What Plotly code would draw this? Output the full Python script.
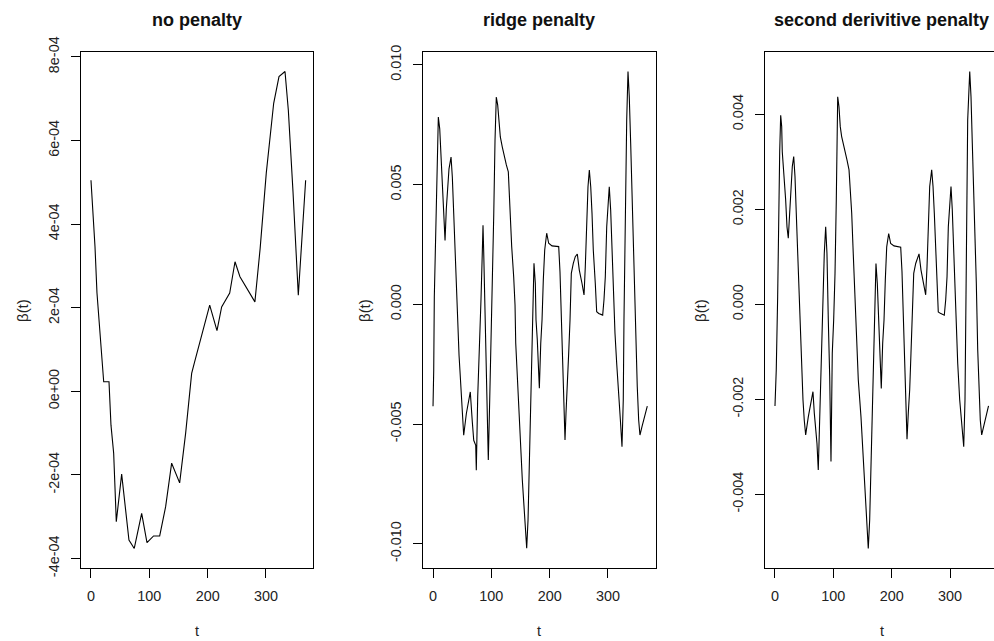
import plotly.graph_objects as go

# ---------------- data ----------------
t_none = [0, 6.9, 10.3, 13.7, 18.3, 21.8, 30.9, 34.3, 38.9, 43.4, 52.6, 61.7, 65.1, 74.2,
          86.9, 96.0, 107.3, 117.8, 128.0, 138.3, 152.0, 162.3, 172.6, 177.0, 185.0, 195.4,
          203.5, 216.0, 224.0, 237.8, 246.9, 255.4, 269.2, 281.0, 290.0, 300.5, 313.2, 322.3,
          332.6, 338.3, 346.3, 351.0, 355.4, 360.0, 364.7, 368.0]
beta_none = [5.05e-4, 3.46e-4, 2.35e-4, 1.71e-4, 0.92e-4, 0.23e-4, 0.23e-4, -0.81e-4, -1.48e-4,
             -3.12e-4, -1.98e-4, -3.08e-4, -3.56e-4, -3.76e-4, -2.92e-4, -3.62e-4, -3.46e-4,
             -3.46e-4, -2.76e-4, -1.72e-4, -2.19e-4, -1.00e-4, 0.43e-4, 0.67e-4, 1.07e-4,
             1.59e-4, 2.06e-4, 1.45e-4, 2.02e-4, 2.35e-4, 3.10e-4, 2.74e-4, 2.42e-4, 2.14e-4,
             3.42e-4, 5.22e-4, 6.89e-4, 7.53e-4, 7.65e-4, 6.73e-4, 4.78e-4, 3.46e-4, 2.30e-4,
             3.30e-4, 4.26e-4, 5.05e-4]

t_ridge = [0, 1.2, 2.2, 4.6, 6.9, 9.1, 11.5, 13.7, 14.9, 17.1,
           19.4, 20.6, 22.8, 25.2, 27.4, 30.9, 33.1, 35.5, 37.7, 39.9,
           42.3, 44.6, 46.8, 49.2, 51.4, 52.6, 57.1, 60.5, 63.9, 67.4,
           69.8, 73.2, 74.2, 76.6, 80.1, 82.3, 84.5, 85.7, 86.9, 89.1,
           91.4, 93.8, 94.8, 97.2, 99.4, 101.7, 104.1, 106.3, 108.5, 110.9,
           113.1, 115.4, 118.8, 122.2, 125.7, 129.1, 132.5, 134.9, 138.3, 140.6,
           141.8, 145.2, 148.6, 150.9, 153.1, 155.5, 157.7, 160.6, 162.9, 165.1,
           167.5, 169.7, 171.4, 173.1, 175.4, 176.6, 178.8, 181.2, 182.3, 184.7,
           186.9, 189.1, 191.5, 194.9, 198.3, 204.0, 215.5, 217.7, 219.9, 222.3,
           224.6, 226.3, 228.0, 230.2, 232.6, 234.9, 237.1, 240.5, 243.9, 247.4,
           250.8, 255.4, 258.9, 261.1, 263.5, 265.7, 268.0, 270.4, 272.6, 274.8,
           278.2, 280.6, 284.1, 290.9, 293.1, 295.4, 297.8, 300.0, 302.2, 304.6,
           306.9, 309.1, 312.0, 314.9, 318.3, 321.1, 324.0, 326.2, 327.4, 329.7,
           332.1, 334.3, 336.5, 338.9, 341.1, 343.4, 345.8, 348.0, 350.2, 352.6,
           354.8, 358.3, 362.9, 367.4]
beta_ridge = [-0.00426, -0.00276, 0.00030, 0.00330, 0.00636, 0.00782, 0.00733, 0.00629, 0.00525, 0.00420,
              0.00323, 0.00267, 0.00399, 0.00483, 0.00566, 0.00615, 0.00532, 0.00378, 0.00218, 0.00065,
              -0.00081, -0.00213, -0.00304, -0.00401, -0.00492, -0.00547, -0.00457, -0.00401, -0.00366, -0.00492,
              -0.00568, -0.00589, -0.00693, -0.00387, -0.00171, 0.00023, 0.00218, 0.00330, 0.00218, -0.00024,
              -0.00274, -0.00525, -0.00650, -0.00400, -0.00170, 0.00018, 0.00373, 0.00686, 0.00866, 0.00832,
              0.00761, 0.00699, 0.00657, 0.00615, 0.00582, 0.00553, 0.00360, 0.00241, 0.00115, -0.00003,
              -0.00163, -0.00316, -0.00469, -0.00622, -0.00734, -0.00817, -0.00901, -0.01019, -0.00901, -0.00664,
              -0.00428, -0.00149, 0.00060, 0.00171, 0.00088, -0.00066, -0.00149, -0.00288, -0.00351, -0.00163,
              -0.00066, 0.00102, 0.00227, 0.00297, 0.00255, 0.00244, 0.00241, 0.00136, -0.00066, -0.00261,
              -0.00455, -0.00567, -0.00455, -0.00358, -0.00205, -0.00066, 0.00129, 0.00171, 0.00199, 0.00210,
              0.00143, 0.00088, 0.00039, 0.00157, 0.00366, 0.00491, 0.00561, 0.00491, 0.00380, 0.00227,
              0.00088, -0.00031, -0.00038, -0.00045, 0.00018, 0.00115, 0.00324, 0.00436, 0.00491, 0.00394,
              0.00227, 0.00046, -0.00121, -0.00246, -0.00400, -0.00478, -0.00595, -0.00400, -0.00066, 0.00380,
              0.00770, 0.00972, 0.00867, 0.00673, 0.00477, 0.00282, 0.00088, -0.00191, -0.00344, -0.00483,
              -0.00546, -0.00511, -0.00469, -0.00425]

t_deriv = [0, 2.2, 4.6, 5.7, 8.1, 9.8, 11.5, 12.5, 15.9, 18.3,
           20.6, 22.8, 25.2, 27.4, 29.7, 32.1, 34.3, 36.5, 38.9, 41.1,
           42.3, 44.6, 48.0, 50.2, 52.6, 57.1, 61.7, 65.1, 67.4, 69.8,
           72.0, 74.2, 76.6, 78.9, 81.1, 82.3, 84.5, 86.9, 89.1, 91.4,
           93.8, 96.0, 98.2, 100.6, 102.9, 105.1, 107.5, 109.7, 111.9, 114.3,
           118.8, 123.4, 126.9, 129.1, 131.5, 133.7, 135.9, 138.3, 140.6, 142.8,
           147.4, 150.9, 153.1, 155.5, 157.7, 159.9, 162.3, 164.6, 166.8, 169.2,
           171.4, 173.1, 175.4, 177.8, 180.0, 182.2, 184.6, 186.9, 189.1, 191.5,
           194.9, 198.3, 204.0, 215.5, 217.7, 219.9, 222.3, 224.6, 226.3, 228.5,
           230.9, 233.1, 235.4, 237.8, 241.2, 244.6, 246.9, 250.3, 254.9, 258.3,
           260.6, 262.8, 265.2, 268.6, 270.9, 273.1, 275.5, 277.7, 279.9, 283.4,
           290.2, 292.6, 294.9, 297.1, 299.5, 301.7, 303.9, 306.3, 308.6, 310.8,
           313.2, 316.6, 320.1, 323.5, 325.7, 326.9, 327.9, 330.3, 333.8, 336.0,
           338.2, 340.6, 342.9, 345.1, 347.5, 349.7, 351.9, 354.3, 357.8, 362.2,
           366.0]
beta_deriv = [-0.00214, -0.00138, 0.00016, 0.00167, 0.00321, 0.00398, 0.00374, 0.00321, 0.00269, 0.00220,
              0.00163, 0.00139, 0.00192, 0.00234, 0.00290, 0.00311, 0.00269, 0.00192, 0.00114, 0.00037,
              -0.00033, -0.00103, -0.00201, -0.00244, -0.00275, -0.00237, -0.00201, -0.00184, -0.00229, -0.00265,
              -0.00293, -0.00349, -0.00237, -0.00145, -0.00033, 0.00009, 0.00107, 0.00163, 0.00107, -0.00033,
              -0.00152, -0.00331, -0.00103, -0.00033, 0.00065, 0.00220, 0.00437, 0.00416, 0.00374, 0.00353,
              0.00325, 0.00304, 0.00283, 0.00241, 0.00192, 0.00121, 0.00058, -0.00005, -0.00082, -0.00159,
              -0.00237, -0.00314, -0.00370, -0.00412, -0.00454, -0.00514, -0.00454, -0.00335, -0.00216, -0.00096,
              -0.00033, 0.00086, 0.00044, -0.00033, -0.00117, -0.00177, -0.00082, -0.00033, 0.00051, 0.00121,
              0.00149, 0.00128, 0.00123, 0.00120, 0.00069, -0.00033, -0.00131, -0.00229, -0.00284, -0.00229,
              -0.00180, -0.00103, -0.00033, 0.00065, 0.00086, 0.00100, 0.00106, 0.00072, 0.00044, 0.00020,
              0.00079, 0.00184, 0.00248, 0.00283, 0.00248, 0.00192, 0.00114, 0.00044, -0.00016, -0.00019,
              -0.00023, 0.00009, 0.00058, 0.00163, 0.00220, 0.00248, 0.00199, 0.00114, 0.00023, -0.00061,
              -0.00124, -0.00201, -0.00244, -0.00300, -0.00201, -0.00033, 0.00192, 0.00388, 0.00490, 0.00437,
              0.00339, 0.00241, 0.00142, 0.00044, -0.00096, -0.00173, -0.00244, -0.00275, -0.00258, -0.00237,
              -0.00214]

panel_titles = ["no penalty", "ridge penalty", "second derivitive penalty"]
x_ticks = [0, 100, 200, 300]
y_ticks_none = [-4e-4, -2e-4, 0, 2e-4, 4e-4, 6e-4, 8e-4]
y_labels_none = ["-4e-04", "-2e-04", "0e+00", "2e-04", "4e-04", "6e-04", "8e-04"]
y_ticks_ridge = [-0.010, -0.005, 0.0, 0.005, 0.010]
y_labels_ridge = ["-0.010", "-0.005", "0.000", "0.005", "0.010"]
y_ticks_deriv = [-0.004, -0.002, 0.0, 0.002, 0.004]
y_labels_deriv = ["-0.004", "-0.002", "0.000", "0.002", "0.004"]

# ---------------- layout geometry ----------------
W, H = 994, 641
FONT = "Liberation Sans, Arial, sans-serif"
TICKSIZE = 14.4


def fx(p):
    return p / W


def fy(p):
    return 1 - p / H


top, bottom = 52, 568
panels = [
    # (left px, right px, xrange, yrange, yticks, ylabels, ylab x px, mirror y)
    (81, 313, [-17.1, 380.6], [-4.227e-4, 8.117e-4], y_ticks_none, y_labels_none, 22, True),
    (422.7, 655.7, [-17.7, 381.8], [-0.011015, 0.010539], y_ticks_ridge, y_labels_ridge, 364, True),
    (765, 994, [-17.1, 375.4], [-0.005551, 0.005311], y_ticks_deriv, y_labels_deriv, 700, False),
]
series = [(t_none, beta_none), (t_ridge, beta_ridge), (t_deriv, beta_deriv)]

fig = go.Figure()
annotations = []
layout = dict(
    width=W, height=H, autosize=False,
    margin=dict(l=0, r=0, t=0, b=0, pad=0, autoexpand=False),
    paper_bgcolor="white", plot_bgcolor="white",
    showlegend=False,
    font=dict(family=FONT, color="black", size=TICKSIZE),
)

for i, ((left, right, xr, yr, yt, yl, ylabx, ymirror), (tt, bb)) in enumerate(zip(panels, series)):
    n = "" if i == 0 else str(i + 1)
    fig.add_trace(go.Scatter(x=tt, y=bb, mode="lines",
                             line=dict(color="black", width=1.1),
                             xaxis="x" + n, yaxis="y" + n, hoverinfo="skip"))
    layout["xaxis" + n] = dict(
        domain=[fx(left), min(1.0, fx(right))], range=xr, anchor="y" + n,
        tickvals=x_ticks, ticktext=[str(v) for v in x_ticks],
        ticks="outside", ticklen=9, tickwidth=1, tickcolor="black",
        showline=True, linecolor="black", linewidth=1, mirror=True,
        showgrid=False, zeroline=False, ticklabelstandoff=6, automargin=False,
        tickfont=dict(family=FONT, size=TICKSIZE, color="#222"),
    )
    layout["yaxis" + n] = dict(
        domain=[fy(bottom), fy(top)], range=yr, anchor="x" + n,
        tickvals=yt, ticktext=yl, tickangle=-90,
        ticks="outside", ticklen=9, tickwidth=1, tickcolor="black",
        showline=True, linecolor="black", linewidth=1, mirror=ymirror,
        showgrid=False, zeroline=False, ticklabelstandoff=6, automargin=False,
        tickfont=dict(family=FONT, size=TICKSIZE, color="#222"),
    )
    cx = (left + min(right + 4 if i == 2 else right, 998)) / 2
    annotations.append(dict(text="<b>" + panel_titles[i] + "</b>", x=fx(cx), y=fy(20),
                            xref="paper", yref="paper", showarrow=False,
                            xanchor="center", yanchor="middle",
                            font=dict(family=FONT, size=18, color="#111")))
    annotations.append(dict(text="t", x=fx(cx), y=fy(631), xref="paper", yref="paper",
                            showarrow=False, xanchor="center", yanchor="middle",
                            font=dict(family=FONT, size=TICKSIZE, color="#222")))
    annotations.append(dict(text="β(t)", x=fx(ylabx), y=fy(311), xref="paper", yref="paper",
                            showarrow=False, xanchor="center", yanchor="middle", textangle=-90,
                            font=dict(family=FONT, size=15, color="#222")))

layout["annotations"] = annotations
fig.update_layout(**layout)
fig.write_html("out.html")
